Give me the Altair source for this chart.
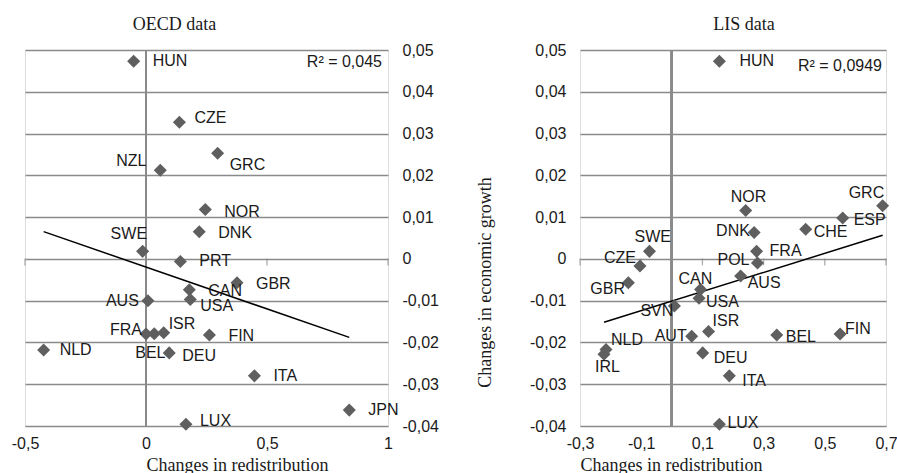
import altair as alt
import pandas as pd

# ---------------- data ----------------
oecd_countries = ["HUN", "CZE", "GRC", "NZL", "NOR", "DNK", "SWE", "PRT", "GBR", "CAN", "USA",
                  "AUS", "FRA", "BEL", "ISR", "FIN", "NLD", "DEU", "ITA", "JPN", "LUX"]
oecd_redistribution = [-0.051, 0.138, 0.296, 0.059, 0.245, 0.220, -0.014, 0.142, 0.376, 0.179, 0.183,
                       0.008, 0.000, 0.034, 0.073, 0.262, -0.423, 0.096, 0.448, 0.840, 0.165]
oecd_growth = [0.0473, 0.0327, 0.0253, 0.0212, 0.0118, 0.0065, 0.0018, -0.0006, -0.0057, -0.0074, -0.0097,
               -0.0100, -0.0180, -0.0179, -0.0177, -0.0182, -0.0218, -0.0225, -0.0280, -0.0362, -0.0396]

lis_countries = ["HUN", "NOR", "DNK", "CHE", "ESP", "GRC", "SWE", "CZE", "GBR", "FRA", "POL", "AUS",
                 "CAN", "USA", "SVN", "ISR", "AUT", "BEL", "FIN", "NLD", "IRL", "DEU", "ITA", "LUX"]
lis_redistribution = [0.1555, 0.2415, 0.269, 0.4376, 0.5585, 0.689, -0.073, -0.104, -0.142, 0.277, 0.280, 0.225,
                      0.094, 0.089, 0.0085, 0.120, 0.065, 0.343, 0.550, -0.215, -0.2216, 0.101, 0.188, 0.1555]
lis_growth = [0.0473, 0.0116, 0.0063, 0.0071, 0.0098, 0.0127, 0.0018, -0.0017, -0.0057, 0.0018, -0.0010, -0.0041,
              -0.0073, -0.0094, -0.0113, -0.0174, -0.0185, -0.0182, -0.0180, -0.0217, -0.0228, -0.0225, -0.0280, -0.0396]

oecd_x_ticks = [-0.5, 0, 0.5, 1]
lis_x_ticks = [-0.3, -0.1, 0.1, 0.3, 0.5, 0.7]
y_ticks = [-0.04, -0.03, -0.02, -0.01, 0, 0.01, 0.02, 0.03, 0.04, 0.05]

oecd_r2 = ["R² = 0,045"]
lis_r2 = ["R² = 0,0949"]

# label placement (pixel offsets of the label's left edge from the marker)
oecd_label_offsets = {
    "HUN": (19, 0), "CZE": (15, -4), "GRC": (12, 12), "NZL": (-44, -9), "NOR": (19, 2), "DNK": (19, 1),
    "SWE": (-32, -17), "PRT": (19, 0), "GBR": (19, 1), "CAN": (19, 1), "USA": (10, 7), "AUS": (-42, 0),
    "FRA": (-36, -4), "BEL": (-19, 19), "ISR": (5, -9), "FIN": (19, 1), "NLD": (16, 0), "DEU": (13, 3),
    "ITA": (19, 0), "JPN": (19, 0), "LUX": (14, -3),
}
lis_label_offsets = {
    "HUN": (20, 0), "NOR": (-15, -13), "DNK": (-38, -2), "CHE": (8, 3), "ESP": (11, 2), "GRC": (-34, -13),
    "SWE": (-15, -14), "CZE": (-36, -8), "GBR": (-38, 6), "FRA": (13, 0), "POL": (-40, -3), "AUS": (7, 7),
    "CAN": (-22, -10), "USA": (7, 4), "SVN": (-34, 5), "ISR": (4, -11), "AUT": (-37, 0), "BEL": (9, 2),
    "FIN": (5, -5), "NLD": (5, -10), "IRL": (-9, 13), "DEU": (11, 5), "ITA": (13, 5), "LUX": (8, -1),
}

SANS = "Liberation Sans"
SERIF = "Liberation Serif"
GRID = "#8a8a8a"
MARK = "#5f5f5f"
TXT = "#1a1a1a"
FS = 16
LABEL_EXPR = "replace(replace(format(datum.value, '.2~f'), '.', ','), '\u2212', '-')"


def make_frame(countries, xs, ys):
    return pd.DataFrame({"country": countries, "x": xs, "y": ys})


def panel(df, offsets, x_dom, x_ticks, r2, width, y_orient, title, title_dx, xtitle_x, r2_dx, r2_y, ytitle):
    height = 376
    x_axis = alt.Axis(values=x_ticks, labelExpr=LABEL_EXPR, grid=False, domain=False, ticks=False,
                      labelFlush=False, labelPadding=9, labelFont=SANS, labelFontSize=FS, labelColor=TXT,
                      title="Changes in redistribution", titleFont=SERIF, titleFontSize=18,
                      titleFontWeight="normal", titleColor=TXT, titleX=xtitle_x, titleY=44,
                      titleBaseline="alphabetic", titleAlign="center")
    y_axis_kw = dict(values=y_ticks, labelExpr=LABEL_EXPR, orient=y_orient, grid=True, labelFlush=False,
                     gridColor=GRID, gridWidth=1.3, domain=False, ticks=False, labelPadding=14,
                     labelFont=SANS, labelFontSize=FS, labelColor=TXT)
    if ytitle:
        y_axis = alt.Axis(title=ytitle, titleFont=SERIF, titleFontSize=18, titleFontWeight="normal",
                          titleColor=TXT, titleX=-90, titleY=232, titleAngle=-90,
                          titleBaseline="alphabetic", titleAlign="center", **y_axis_kw)
    else:
        y_axis = alt.Axis(title=None, **y_axis_kw)

    X = alt.X("x:Q", scale=alt.Scale(domain=x_dom, nice=False, zero=False), axis=x_axis)
    Y = alt.Y("y:Q", scale=alt.Scale(domain=[-0.04, 0.05], nice=False, zero=False), axis=y_axis)

    zero_rule = alt.Chart(df).mark_rule(color=GRID, strokeWidth=1.8).encode(x=alt.datum(0))
    ticks = alt.Chart(pd.DataFrame({"x": x_ticks})).mark_tick(
        orient="vertical", size=7, thickness=1.3, color=GRID, yOffset=3
    ).encode(x=X, y=alt.datum(0))
    reg = alt.Chart(df).transform_regression("x", "y").mark_line(
        color="black", strokeWidth=1.5
    ).encode(x=X, y=Y)
    pts = alt.Chart(df).mark_point(shape="diamond", filled=True, size=170, color=MARK, opacity=1).encode(
        x=X, y=Y)
    label_layers = []
    for c in df["country"]:
        ddx, ddy = offsets[c]
        label_layers.append(
            alt.Chart(df).transform_filter(alt.datum.country == c).mark_text(
                align="left", baseline="middle", font=SANS, fontSize=FS, color=TXT, dx=ddx, dy=ddy
            ).encode(x=X, y=Y, text="country:N")
        )
    r2_text = alt.Chart(pd.DataFrame({"t": r2})).mark_text(
        align="right", baseline="middle", font=SANS, fontSize=FS, color=TXT
    ).encode(x=alt.value(width + r2_dx), y=alt.value(r2_y), text="t:N")

    return alt.layer(zero_rule, ticks, reg, pts, *label_layers, r2_text).properties(
        width=width, height=height,
        title=alt.TitleParams(title, font=SERIF, fontSize=18, fontWeight="normal", color=TXT,
                              anchor="middle", frame="group", dx=title_dx, offset=-10,
                              baseline="bottom"),
    )


oecd_df = make_frame(oecd_countries, oecd_redistribution, oecd_growth)
lis_df = make_frame(lis_countries, lis_redistribution, lis_growth)

left = panel(oecd_df, oecd_label_offsets, [-0.5, 1], oecd_x_ticks, oecd_r2, 363, "right", "OECD data",
             -32, 212, -6, 12, None)
right = panel(lis_df, lis_label_offsets, [-0.3, 0.7], lis_x_ticks, lis_r2, 306, "left", "LIS data",
              11, 91, -4, 16, "Changes in economic growth")

chart = alt.hconcat(left, right, spacing=192, bounds="flush").properties(
    autosize=alt.AutoSizeParams(type="none"),
    padding={"left": 25, "top": 50, "right": 872, "bottom": 423},
).configure_view(stroke=None).configure(background="white")

chart.save("out.html", embed_options={"renderer": "svg", "actions": False})
